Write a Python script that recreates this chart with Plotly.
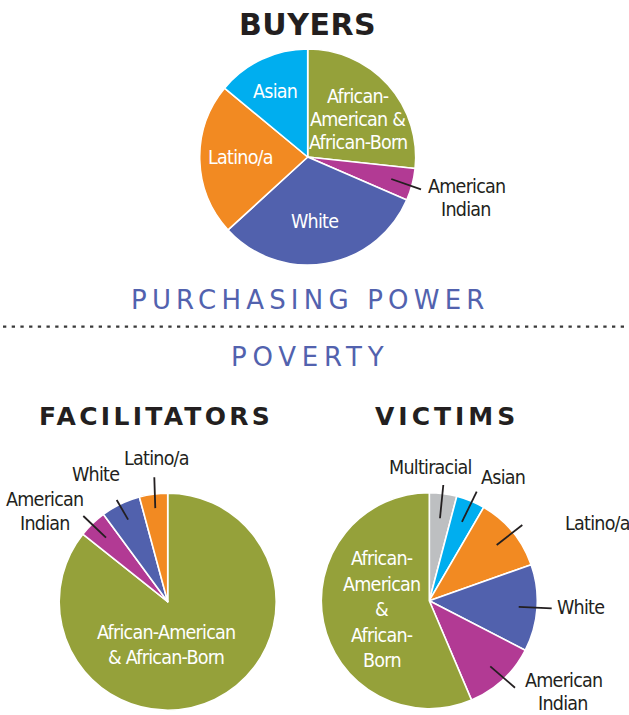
import math
import plotly.graph_objects as go

W, H = 629, 715

# ---------------- DATA ----------------
buyers_labels = ["African-American & African-Born", "American Indian", "White", "Latino/a", "Asian"]
buyers_values = [26.7, 4.8, 31.7, 22.8, 14.0]

fac_labels = ["African-American & African-Born", "American Indian", "White", "Latino/a"]
fac_values = [85.7, 4.2, 5.9, 4.2]

vic_labels = ["Multiracial", "Asian", "Latino/a", "White", "American Indian",
              "African-American & African-Born"]
vic_values = [4.1, 4.3, 11.2, 13.0, 11.0, 56.4]

chart_titles = ["BUYERS", "FACILITATORS", "VICTIMS"]
divider_top = "PURCHASING POWER"
divider_bottom = "POVERTY"

# ---------------- STYLE ----------------
COLORS = {
    "African-American & African-Born": "#95A13A",
    "American Indian": "#B23A94",
    "White": "#5161AD",
    "Latino/a": "#F28A22",
    "Asian": "#00AEEF",
    "Multiracial": "#BDBFC1",
}
DARK = "#231F20"
BLUE_TXT = "#5262AE"
LABEL_FONT = "DejaVu Sans Condensed, DejaVu Sans, sans-serif"
LABEL_STYLE = "font-stretch:condensed;letter-spacing:-0.75px"
LABEL_SIZE = 19.5
TITLE_FONT = "DejaVu Sans, Verdana, sans-serif"

# pie geometry in pixels (center x, center y, radius)
PIES = {
    "buyers": (307.7, 157.0, 108.0),
    "fac": (167.7, 601.7, 108.5),
    "vic": (429.3, 600.7, 108.0),
}


def px(x):
    return x / W


def py(y):
    return 1 - y / H


def domain(key):
    cx, cy, r = PIES[key]
    return dict(x=[px(cx - r), px(cx + r)], y=[py(cy + r), py(cy - r)])


def mid_point(key, values, i, frac):
    cx, cy, r = PIES[key]
    tot = sum(values)
    cum = sum(values[:i]) + values[i] / 2.0
    a = math.radians(cum / tot * 360.0)
    return cx + r * frac * math.sin(a), cy - r * frac * math.cos(a)


fig = go.Figure()


def add_pie(key, labels, values, name):
    fig.add_trace(go.Pie(
        labels=labels, values=values, name=name,
        sort=False, direction="clockwise", rotation=0,
        marker=dict(colors=[COLORS[l] for l in labels],
                    line=dict(color="white", width=1.6)),
        textinfo="none", domain=domain(key), showlegend=False,
        hoverinfo="label+percent",
    ))


add_pie("buyers", buyers_labels, buyers_values, "Buyers")
add_pie("fac", fac_labels, fac_values, "Facilitators")
add_pie("vic", vic_labels, vic_values, "Victims")

annotations = []
shapes = []


def text(x, y, s, size=LABEL_SIZE, color=DARK, family=LABEL_FONT, weight="normal",
         style=LABEL_STYLE):
    f = dict(family=family, size=size, color=color, weight=weight)
    if style:
        s = '<span style="%s">%s</span>' % (style, s)
    annotations.append(dict(x=px(x), y=py(y), xref="paper", yref="paper",
                            text=s, showarrow=False, xanchor="center",
                            yanchor="middle", font=f))


def lines(x, y0, step, parts, **kw):
    for k, p in enumerate(parts):
        text(x, y0 + k * step, p, **kw)


def leader(key, values, i, frac, x1, y1):
    x0, y0 = mid_point(key, values, i, frac)
    shapes.append(dict(type="line", xref="paper", yref="paper",
                       x0=px(x0), y0=py(y0), x1=px(x1), y1=py(y1),
                       line=dict(color=DARK, width=1.8)))


# titles
text(307, 24.5, chart_titles[0], size=30, family=TITLE_FONT, weight="bold",
     style="letter-spacing:0.5px")
text(156, 416, chart_titles[1], size=25, family=TITLE_FONT, weight="bold",
     style="letter-spacing:3.3px")
text(447, 416, chart_titles[2], size=25, family=TITLE_FONT, weight="bold",
     style="letter-spacing:4px")

# divider
text(310, 300, divider_top, size=26, color=BLUE_TXT, family=TITLE_FONT,
     style="letter-spacing:5.2px")
text(310, 356.5, divider_bottom, size=26, color=BLUE_TXT, family=TITLE_FONT,
     style="letter-spacing:5.8px")
shapes.append(dict(type="line", xref="paper", yref="paper",
                   x0=px(3), x1=px(627), y0=py(326.7), y1=py(326.7),
                   line=dict(color="#3a3a3a", width=2.2, dash="3.3px,5.4px")))

# ---- Buyers labels
lines(358, 96.5, 22.8, ["African-", "American &", "African-Born"], color="white")
text(275, 91.5, "Asian", color="white")
text(240.5, 157, "Latino/a", color="white")
text(314, 221, "White", color="white")
lines(466.5, 187, 22.5, ["American", "Indian"])
leader("buyers", buyers_values, 1, 0.8, 421, 189.3)

# ---- Facilitators labels
lines(166, 632.5, 25, ["African-American", "& African-Born"], color="white")
text(156, 458.5, "Latino/a")
leader("fac", fac_values, 3, 0.87, 154.3, 477.3)
text(95, 474.5, "White")
leader("fac", fac_values, 2, 0.84, 116.7, 500)
lines(44.6, 499.5, 23.5, ["American", "Indian"])
leader("fac", fac_values, 1, 0.82, 83.3, 516)

# ---- Victims labels
lines(382, 558.5, 25.5, ["African-", "American", "&", "African-", "Born"], color="white")
text(430.5, 467.5, "Multiracial")
leader("vic", vic_values, 0, 0.77, 443.3, 485)
text(503, 477, "Asian")
leader("vic", vic_values, 1, 0.79, 476.7, 491.7)
text(597, 523.5, "Latino/a")
leader("vic", vic_values, 2, 0.81, 522.3, 525)
text(580.3, 607.5, "White")
leader("vic", vic_values, 3, 0.83, 551.7, 608.3)
lines(563, 680.5, 23, ["American", "Indian"])
leader("vic", vic_values, 4, 0.83, 515, 687.7)

fig.update_layout(
    width=W, height=H,
    margin=dict(l=0, r=0, t=0, b=0),
    paper_bgcolor="white", plot_bgcolor="white",
    showlegend=False,
    annotations=annotations, shapes=shapes,
)

fig.write_html("out.html", config={"displayModeBar": False},
               post_script="document.body.style.margin='0';document.body.style.overflow='hidden';")
